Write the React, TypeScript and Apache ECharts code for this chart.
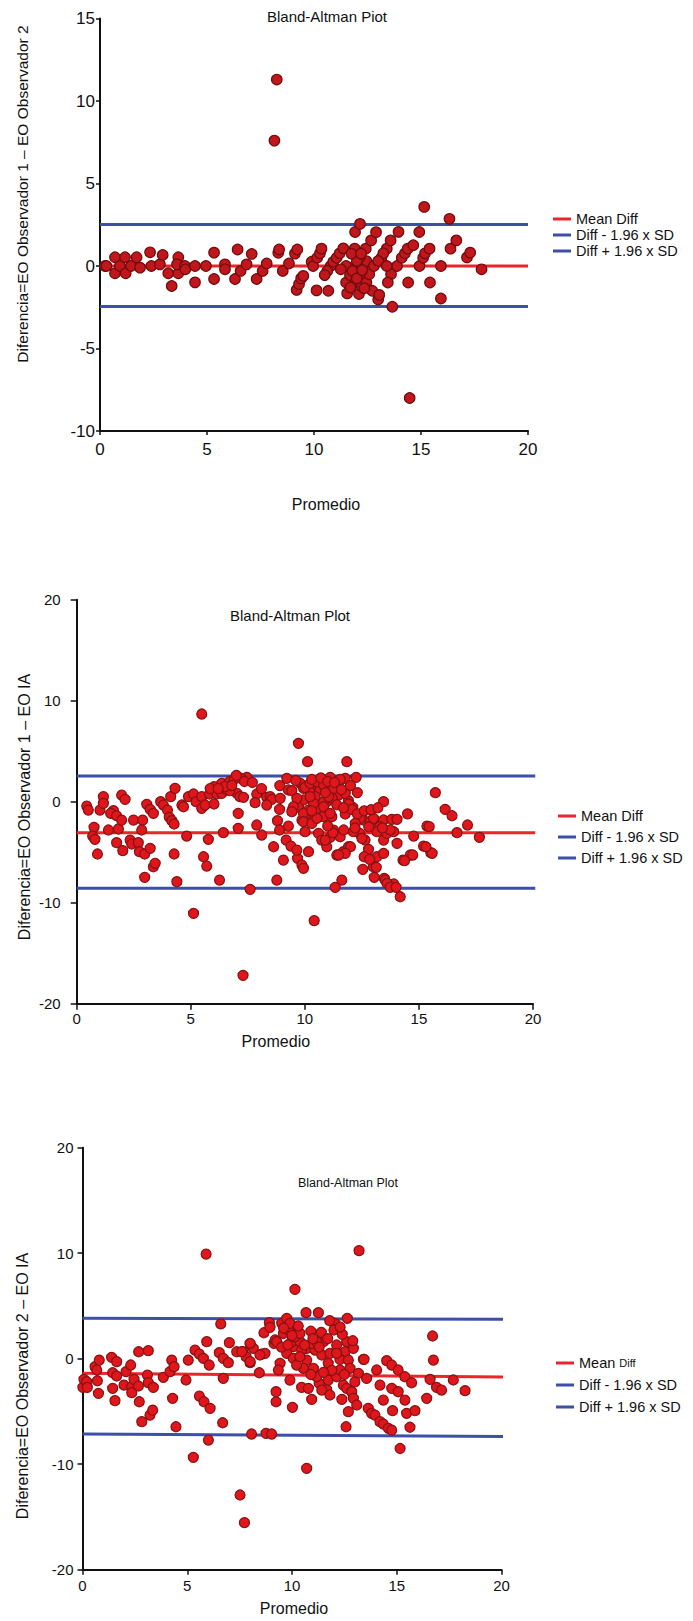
import React, { useEffect, useRef } from 'react';
import * as echarts from 'echarts';

// ---------- DATA ----------
const xTickValues = [0, 5, 10, 15, 20];
const legendNames = ['Mean Diff', 'Diff - 1.96 x SD', 'Diff + 1.96 x SD'];
const plotTitles = ['Bland-Altman Piot', 'Bland-Altman Plot', 'Bland-Altman Plot'];
const yAxisTitles = [
  'Diferencia=EO Observador 1 \u2013 EO Observador 2',
  'Diferencia=EO Observador 1 \u2013 EO IA',
  'Diferencia=EO Observador 2 \u2013 EO IA',
];
const xAxisTitle = 'Promedio';

// Plot 1: Observador 1 vs Observador 2  [promedio, diferencia]
const plot1Points: number[][] = [
  [0.23, 0], [0.3, 0], [0.7, 0.53], [0.7, -0.44], [0.93, 0], [1.17, 0.53], [1.2, -0.44], [1.45, 0],
  [1.71, 0.53], [1.87, -0.1], [2.34, 0.83], [2.4, 0], [2.8, 0.1], [2.93, 0.67], [3.19, -0.44],
  [3.35, -1.21], [3.66, 0.53], [3.66, -0.44], [3.6, 0.1], [3.97, 0], [3.99, -0.2], [4.44, 0],
  [4.44, -0.99], [4.95, 0], [5.33, 0.81], [5.33, -0.79], [5.84, 0.1], [5.84, -0.2], [6.43, 1.0],
  [6.31, -0.79], [6.57, -0.3], [6.85, 0.1], [7.09, 0.73], [7.32, -0.79], [7.6, -0.3], [7.79, 0.15],
  [8.33, 0.8], [8.37, 1.0], [8.54, -0.3], [8.83, 0.15], [9.11, 0.75], [9.22, 1.0], [9.19, -1.45],
  [9.3, -1.1], [9.4, -0.75], [9.5, -0.6], [8.26, 11.3], [8.15, 7.6],
  [9.89, 0.26], [9.96, 0], [10.15, 0.5], [10.28, 0.77], [10.35, 1.05], [10.12, -1.48], [10.67, -1.5],
  [10.78, 0], [10.62, -0.3], [10.5, -0.55], [10.9, 0.26], [11.06, 0.5], [11.2, 0.77], [11.37, 1.07],
  [11.5, -1.0], [11.55, -1.66], [11.68, -0.55], [11.9, 1.05], [11.92, 2.06], [12.15, 2.55],
  [11.95, -1.0], [12.1, -1.7], [12.24, -1.24], [12.18, -0.5], [12.3, 0], [12.45, 0.3], [12.42, 1.05],
  [12.45, -1.0], [12.58, -0.5], [12.67, 1.55], [12.9, 2.05], [12.72, -1.5], [13.0, -2.03],
  [13.05, -1.75], [12.8, 0], [13.15, 0.5], [13.4, 1.05], [13.24, 0.77], [13.0, 0.3], [13.58, 1.55],
  [13.66, -2.47], [13.6, -0.5], [13.45, -1.0], [13.88, 0], [13.4, 0], [13.95, 2.07], [14.1, 0.5],
  [14.25, 0.77], [14.38, 1.05], [14.4, -1.0], [14.47, -8.0], [14.64, 1.26], [14.92, 2.06], [14.93, 0],
  [15.15, 3.58], [15.1, 0.5], [15.19, 0.77], [15.4, 1.05], [15.42, -1.0], [15.93, 0], [15.93, -1.97],
  [16.33, 2.86], [16.38, 1.05], [16.65, 1.55], [17.15, 0.52], [17.3, 0.81], [17.83, -0.2],
  [12.12, 0.5], [11.9, 0], [11.5, 0], [11.8, -0.3], [12.0, -0.75], [12.25, -0.25], [11.7, -1.3],
  [12.35, -1.35], [12.0, 0.3], [11.75, 0.75], [12.2, 0.75], [11.25, -0.2],
];

// Plot 2: Observador 1 vs IA
const plot2Points: number[][] = [
  [0.44, -0.43], [0.51, -0.83], [1.02, -0.83], [1.17, 0.5], [1.17, -0.17], [0.76, -2.54], [0.7, -3.4],
  [0.8, -3.73], [0.91, -5.18], [1.39, -2.8], [1.61, -0.89], [1.49, -1.16], [1.75, -1.39], [1.83, -2.7],
  [1.97, 0.66], [2.12, 0.23], [1.97, -1.82], [1.75, -4.06], [2.02, -4.85], [2.34, -3.8], [2.41, -4.19],
  [2.49, -1.82], [2.7, -4.06], [2.75, -4.95], [2.89, -1.82], [2.85, -2.8], [2.98, -5.18], [3.07, -0.26],
  [3.22, -0.76], [3.36, -1.16], [3.22, -4.62], [2.98, -7.49], [3.36, -6.44], [3.44, -6.1], [3.68, 0],
  [3.8, -0.33], [3.98, -0.83], [4.12, 0.5], [4.31, 1.32], [4.06, -1.55], [4.17, -1.88], [4.27, -2.21],
  [4.27, -5.18], [4.39, -7.92], [4.61, -0.33], [4.68, -0.5], [4.82, -3.4], [4.9, 0.5], [5.12, 0.76],
  [5.23, 0], [5.48, 0.5], [5.48, -0.66], [5.56, -5.45], [5.7, -6.37], [5.77, -3.73], [5.12, -11.06],
  [5.63, -0.33], [5.82, 0.76], [6.02, 1.49], [6.14, 0.76], [6.02, -0.23], [6.36, 1.82], [6.36, 0.83],
  [6.43, -3.07], [6.26, -7.76], [6.58, 1.16], [7.02, 0.83], [7.16, 0.5], [7.08, -1.16], [7.08, -2.64],
  [7.46, 2.41], [7.6, -8.68], [7.89, 0.76], [7.82, -0.1], [7.89, -2.31], [8.11, -3.3], [8.33, 0.43],
  [8.48, 0.5], [8.55, 0.23], [8.63, -4.46], [8.77, -7.76], [8.8, -1.88], [8.89, -2.8], [8.92, 0.33],
  [9.06, -5.78], [9.18, -3.8], [9.21, 2.31], [9.28, 1.16], [9.28, -2.41], [9.47, -0.76], [9.72, 5.78],
  [9.68, -5.61], [9.87, -6.27], [9.94, -6.6], [9.8, 1.82], [9.94, 0.17], [5.48, 8.68], [7.29, -17.2],
  [6.72, 1.09], [7.31, 0.43], [8.33, -0.33], [8.89, -0.76], [9.43, 1.09], [9.94, 1.32], [9.72, -0.56],
  [9.39, -4.39], [6.7, 2.0], [6.9, 2.2], [7.2, 2.3], [7.35, 2.0], [6.5, 1.5], [5.85, 1.3], [6.2, 1.3],
  [10.12, 3.96], [11.84, 3.96], [11.11, 2.41], [11.77, 2.31], [12.25, 2.41], [10.23, 0.99], [10.6, 1.49],
  [10.53, -0.66], [10.96, 0], [11.18, 0.99], [11.48, 0.66], [11.91, 0.1], [12.1, -0.56], [11.77, -1.22],
  [10.82, -1.48], [10.16, -1.65], [9.87, -1.81], [10.38, -1.81], [11.18, -1.48], [10.6, -3.14],
  [11.11, -3.53], [10.96, -4.46], [11.4, -5.28], [11.69, -4.95], [11.91, -4.46], [11.55, -3.47],
  [11.26, -2.81], [10.74, -3.8], [12.57, -1.81], [12.86, -1.98], [13.04, -1.81], [13.45, -1.81],
  [13.81, -1.75], [13.45, 0], [12.4, -3.14], [12.64, -3.8], [12.79, -4.72], [13.15, -5.45], [13.0, -6.44],
  [13.45, -5.12], [13.45, -3.8], [14.04, -4.13], [13.48, -7.59], [13.9, -8.15], [14.62, -5.28],
  [14.3, -5.78], [14.77, -3.4], [15.2, -4.39], [15.35, -2.41], [13.6, -3.14], [13.28, -2.48],
  [15.72, 0.89], [16.15, -0.76], [16.45, -1.39], [14.04, -1.75], [17.13, -2.31], [16.67, -3.07],
  [17.65, -3.53], [15.52, -5.05], [12.6, -5.45], [12.84, -5.71], [13.13, -6.5], [12.54, -6.7],
  [13.04, -7.49], [13.52, -7.76], [13.6, -8.09], [13.74, -8.48], [14.0, -8.48], [14.18, -9.41],
  [11.33, -8.48], [11.62, -7.76], [10.41, -11.78], [9.65, -4.79], [10.16, -4.95], [10.01, -2.97],
  [12.43, -1.65], [12.21, -2.15], [13.01, -1.65], [13.89, -2.97], [12.13, -2.97], [12.5, -3.63],
  [12.0, -4.46], [11.77, -5.12], [11.48, -5.28], [10.89, -3.8], [11.23, -3.07], [11.7, -2.8],
  [11.92, -0.23], [12.06, -0.76], [11.77, 0.83], [11.2, 0.33], [10.82, 0], [10.97, 1.49], [10.67, 1.16],
  [10.45, 0.5], [10.38, -0.17], [10.16, -0.83], [10.01, 1.42], [9.65, 0.33], [9.5, -0.5], [9.43, -0.99],
  [9.94, -1.16], [9.94, -1.98], [10.31, -2.15], [10.53, -1.65], [10.82, -0.5], [11.11, -1.16],
  [10.23, 0.5], [11.26, 1.32], [11.48, 1.88], [11.55, 2.21], [10.23, 1.82], [10.53, 1.98], [10.82, 1.65],
  [11.04, 0.5], [13.16, -2.97], [13.74, -2.8], [14.37, -5.84], [15.58, -5.11], [15.45, -2.47],
  [15.31, -4.46], [14.73, -5.28],
  [10.3, 2.2], [10.7, 2.35], [11.0, 2.0], [11.3, 1.9], [10.9, 0.9], [11.6, 1.2], [12.0, 1.6], [12.3, 0.9],
  [11.4, -0.3], [11.7, -0.6], [12.3, -1.2], [12.6, -0.9], [12.9, -0.8], [13.2, -0.6], [14.5, -1.2],
  [12.2, -2.6], [12.8, -2.5], [13.4, -2.6], [11.0, -2.4], [10.3, -0.9], [9.6, 2.1], [8.9, 1.6],
  [8.1, 1.3], [7.7, 1.9], [7.0, 2.6], [6.8, 1.6],
];

// Plot 3: Observador 2 vs IA
const plot3Points: number[][] = [
  [0.02, -2.72], [0.07, -1.96], [0.2, -2.18], [0.23, -2.72], [0.6, -0.76], [0.68, -1.07], [0.8, -0.13],
  [0.71, -2.09], [0.76, -3.29], [1.39, 0.13], [1.63, -0.28], [1.44, -1.33], [1.63, -1.64], [1.44, -2.81],
  [1.55, -3.98], [1.98, -2.5], [2.08, -1.23], [2.3, -0.6], [2.35, -2.65], [2.35, -3.22], [2.46, -1.96],
  [2.67, -2.59], [2.71, -4.08], [2.83, -5.97], [2.68, 0.66], [3.14, 0.76], [3.1, -1.55], [3.14, -2.27],
  [3.38, -2.72], [3.22, -5.34], [3.35, -4.87], [3.86, -1.77], [4.18, -1.23], [4.26, -0.13], [4.37, -0.76],
  [4.3, -3.76], [4.46, -6.45], [4.94, -2.02], [5.05, -0.13], [5.37, 0.82], [5.58, 0.44], [5.77, 0.03],
  [6.05, -0.6], [5.58, -3.54], [5.8, -4.08], [6.09, -4.71], [5.93, 1.61], [5.29, -9.35], [6.01, -7.71],
  [6.6, 3.3], [6.53, 0.57], [6.72, 0.03], [6.96, -0.38], [7.01, 1.52], [6.72, -1.86], [6.69, -6.07],
  [7.36, 0.66], [7.65, 0.66], [7.81, 0.19], [8.0, -0.38], [8.0, 1.39], [8.07, -7.14], [8.44, -1.33],
  [8.55, 0.44], [8.71, 0.51], [8.92, 3.41], [8.66, 2.46], [8.76, -7.08], [9.24, -4.08], [9.51, 3.35],
  [9.14, 1.45], [9.75, 3.82], [10.06, 3.03], [10.02, -4.61], [10.46, -2.72], [10.7, -10.4], [10.67, 4.36],
  [10.06, 1.14], [5.9, 9.92], [10.14, 6.57], [7.52, -12.92], [7.73, -15.54],
  [11.26, 4.36], [12.64, 3.83], [12.05, 3.35], [12.0, 2.72], [9.9, 2.56], [8.95, 2.97], [8.15, 0.98],
  [9.24, -3.13], [9.19, 1.77], [9.98, 1.61], [10.38, 1.61], [10.7, 0.98], [11.1, 0.82], [11.5, 1.61],
  [12.13, 1.3], [12.61, 1.61], [12.53, 0.66], [12.93, 0.98], [12.29, -0.07], [12.69, -0.13], [13.41, -0.07],
  [12.77, -0.91], [13.17, -1.39], [13.56, -1.87], [11.3, -2.34], [11.65, -2.91], [10.94, -3.86],
  [11.18, -1.71], [11.73, -2.03], [12.13, -1.71], [12.45, -2.5], [12.61, -2.81], [12.85, -3.13],
  [12.93, -3.76], [12.38, -3.86], [12.69, -5.02], [13.09, -4.39], [13.64, -4.71], [13.8, -5.18],
  [13.96, -5.34], [14.2, -5.97], [14.36, -6.2], [14.6, -6.6], [14.76, -6.77], [12.58, -6.45],
  [14.52, -0.19], [14.76, -0.6], [15.07, -1.07], [15.39, -1.71], [15.71, -2.28], [14.04, -1.07],
  [14.2, -2.5], [14.76, -2.81], [15.07, -3.13], [15.39, -3.92], [14.36, -3.92], [14.8, -4.93],
  [15.47, -5.18], [15.87, -4.93], [15.63, -6.5], [15.16, -8.51], [16.43, -3.76], [16.59, -1.96],
  [16.9, -2.72], [16.71, 2.15], [16.75, -0.13], [9.03, -7.14], [13.2, 10.24], [17.14, -2.97],
  [17.7, -2.02], [18.26, -3.03], [13.44, -0.06], [9.59, 2.39], [9.83, 2.72], [10.14, 2.09], [10.46, 0.82],
  [10.7, -0.13], [10.94, 1.45], [11.18, 1.61], [11.42, 0.35], [11.73, -0.44], [11.02, -0.91],
  [10.54, -0.91], [11.81, 0.51], [12.13, 0.51], [12.29, -1.07], [9.75, 0.51], [10.06, 0.03], [9.43, -0.44],
  [9.35, -1.07], [10.22, -0.6], [10.78, -2.81], [11.42, -2.97], [11.81, -3.44], [9.9, -2.03], [9.27, 1.61],
  [9.9, 3.35], [10.38, 0.19], [10.38, 2.4], [7.6, 0.67], [8.0, 1.46], [8.47, 0.35], [8.0, -0.28],
  [9.6, 2.9], [10.0, 2.2], [10.3, 3.1], [10.9, 2.6], [11.4, 2.5], [11.7, 1.9], [11.0, 1.9], [10.6, 1.3],
  [9.5, 1.1], [9.8, 1.3], [11.3, 1.1], [12.4, 2.3], [12.3, 3.0], [11.8, 3.6], [12.9, 1.7], [11.9, -1.1],
  [12.5, -1.5], [13.0, -2.2], [11.5, -1.3], [10.9, -1.5],
];

// Reference lines: x extents and values at both ends
const plot1LineX = [0, 20];
const plot1Mean = [0.0, 0.0];
const plot1LowerLimit = [-2.46, -2.46];
const plot1UpperLimit = [2.52, 2.52];

const plot2LineX = [0, 20.1];
const plot2Mean = [-3.07, -3.07];
const plot2LowerLimit = [-8.57, -8.57];
const plot2UpperLimit = [2.54, 2.54];

const plot3LineX = [0, 20.95];
const plot3Mean = [-1.38, -1.76];
const plot3LowerLimit = [-7.14, -7.39];
const plot3UpperLimit = [3.83, 3.73];

// ---------- STYLE ----------
const FONT = "'Liberation Sans', Arial, Helvetica, sans-serif";
const RED_LINE = '#e8262b';
const BLUE_LINE = '#3d4fa6';
const AXIS_COLOR = '#111111';

const pairLine = (xs: number[], ys: number[]) => xs.map((x, i) => [x, ys[i]]);

export default function App() {
  const ref = useRef<HTMLDivElement>(null);

  useEffect(() => {
    document.body.style.margin = '0';
    if (!ref.current) return;
    const chart = echarts.init(ref.current, undefined, { renderer: 'svg' });

    const grids = [
      { left: 100, top: 18.5, width: 428, height: 412.5 },
      { left: 76.7, top: 599.7, width: 456.3, height: 404 },
      { left: 82.5, top: 1147.7, width: 419, height: 422 },
    ];
    const yRanges = [
      { min: -10, max: 15, interval: 5 },
      { min: -20, max: 20, interval: 10 },
      { min: -20, max: 20, interval: 10 },
    ];
    const tickFont = [17, 15, 15];
    const xLabelMargin = [10, 7, 8];
    const yLabelMargin = [5, 16, 9];
    const tickLen = [4, 6, 5];
    const xNameGap = [65, 30, 31];
    const xNamePadding = [[0, 0, 0, 24], [0, 58, 0, 0], [0, 0, 0, 4]];

    const xAxes = grids.map((_, i) => ({
      gridIndex: i,
      type: 'value',
      min: xTickValues[0],
      max: xTickValues[xTickValues.length - 1],
      interval: xTickValues[1] - xTickValues[0],
      splitLine: { show: false },
      axisLine: { onZero: false, lineStyle: { color: AXIS_COLOR, width: 2 } },
      axisTick: { show: true, length: tickLen[i], lineStyle: { color: AXIS_COLOR, width: 1.5 } },
      axisLabel: { color: AXIS_COLOR, fontSize: tickFont[i], fontFamily: FONT, margin: xLabelMargin[i] },
      name: xAxisTitle,
      nameLocation: 'middle',
      nameGap: xNameGap[i],
      nameTextStyle: { color: AXIS_COLOR, fontSize: 16, fontFamily: FONT, padding: xNamePadding[i] },
    }));

    const yAxes = grids.map((_, i) => ({
      gridIndex: i,
      type: 'value',
      min: yRanges[i].min,
      max: yRanges[i].max,
      interval: yRanges[i].interval,
      splitLine: { show: false },
      axisLine: { onZero: false, lineStyle: { color: AXIS_COLOR, width: 2 } },
      axisTick: { show: true, length: tickLen[i], lineStyle: { color: AXIS_COLOR, width: 1.5 } },
      axisLabel: { color: AXIS_COLOR, fontSize: tickFont[i], fontFamily: FONT, margin: yLabelMargin[i] },
    }));

    const pointSets = [plot1Points, plot2Points, plot3Points];
    const lineXs = [plot1LineX, plot2LineX, plot3LineX];
    const means = [plot1Mean, plot2Mean, plot3Mean];
    const lowers = [plot1LowerLimit, plot2LowerLimit, plot3LowerLimit];
    const uppers = [plot1UpperLimit, plot2UpperLimit, plot3UpperLimit];
    const markerFill = ['#c0161c', '#e0161d', '#e0161d'];
    const markerBorder = ['#6e0d0d', '#861212', '#861212'];
    const markerSize = [10.5, 10, 10];

    const series: any[] = [];
    for (let i = 0; i < 3; i++) {
      const lineDefs = [
        { name: legendNames[0], data: pairLine(lineXs[i], means[i]), color: RED_LINE },
        { name: legendNames[1], data: pairLine(lineXs[i], lowers[i]), color: BLUE_LINE },
        { name: legendNames[2], data: pairLine(lineXs[i], uppers[i]), color: BLUE_LINE },
      ];
      lineDefs.forEach((d) => {
        series.push({
          type: 'line',
          name: d.name,
          xAxisIndex: i,
          yAxisIndex: i,
          data: d.data,
          symbol: 'none',
          clip: false,
          silent: true,
          color: d.color,
          itemStyle: { color: d.color },
          lineStyle: { color: d.color, width: 3 },
          z: 2,
        });
      });
      series.push({
        type: 'scatter',
        name: 'Observaciones ' + (i + 1),
        xAxisIndex: i,
        yAxisIndex: i,
        data: pointSets[i],
        symbol: 'circle',
        symbolSize: markerSize[i],
        itemStyle: { color: markerFill[i], borderColor: markerBorder[i], borderWidth: 1.2, opacity: 1 },
        z: 3,
      });
    }

    const legendPos = [
      { left: 553, top: 211, gap: 0 },
      { left: 558, top: 808, gap: 5 },
      { left: 556, top: 1355, gap: 6 },
    ];
    const legends = legendPos.map((p, i) => ({
      data: legendNames,
      orient: 'vertical',
      left: p.left,
      top: p.top,
      padding: 0,
      itemGap: p.gap,
      itemWidth: 18,
      itemHeight: 3,
      icon: 'rect',
      selectedMode: false,
      formatter:
        i === 2
          ? (name: string) => (name === legendNames[0] ? '{a|Mean }{b|Diff}' : '{a|' + name + '}')
          : undefined,
      textStyle: {
        color: AXIS_COLOR,
        fontSize: 14.5,
        lineHeight: 16,
        fontFamily: FONT,
        rich: {
          a: { fontSize: 14.5, fontFamily: FONT, color: AXIS_COLOR, lineHeight: 16 },
          b: { fontSize: 11, fontFamily: FONT, color: AXIS_COLOR, lineHeight: 16 },
        },
      },
    }));

    const titlePos = [
      { left: 327, top: 8.5, size: 15 },
      { left: 290, top: 607.5, size: 15 },
      { left: 348, top: 1176.5, size: 12.5 },
    ];
    const titles = titlePos.map((p, i) => ({
      text: plotTitles[i],
      left: p.left,
      top: p.top,
      textAlign: 'center',
      padding: 0,
      textStyle: { color: AXIS_COLOR, fontSize: p.size, fontWeight: 'normal', fontFamily: FONT },
    }));

    const yTitlePos = [
      { x: 22, y: 194, size: 15.5 },
      { x: 24.4, y: 807, size: 16 },
      { x: 22, y: 1386, size: 16 },
    ];
    const graphics = yTitlePos.map((p, i) => ({
      type: 'text',
      x: p.x,
      y: p.y,
      rotation: Math.PI / 2,
      silent: true,
      style: {
        text: yAxisTitles[i],
        fill: AXIS_COLOR,
        fontSize: p.size,
        fontFamily: FONT,
        align: 'center',
        verticalAlign: 'middle',
      },
    }));

    chart.setOption({
      animation: false,
      backgroundColor: '#ffffff',
      title: titles,
      grid: grids,
      xAxis: xAxes,
      yAxis: yAxes,
      legend: legends,
      graphic: graphics,
      series,
    });

    return () => {
      chart.dispose();
    };
  }, []);

  return <div ref={ref} style={{ width: 693, height: 1621 }} />;
}
